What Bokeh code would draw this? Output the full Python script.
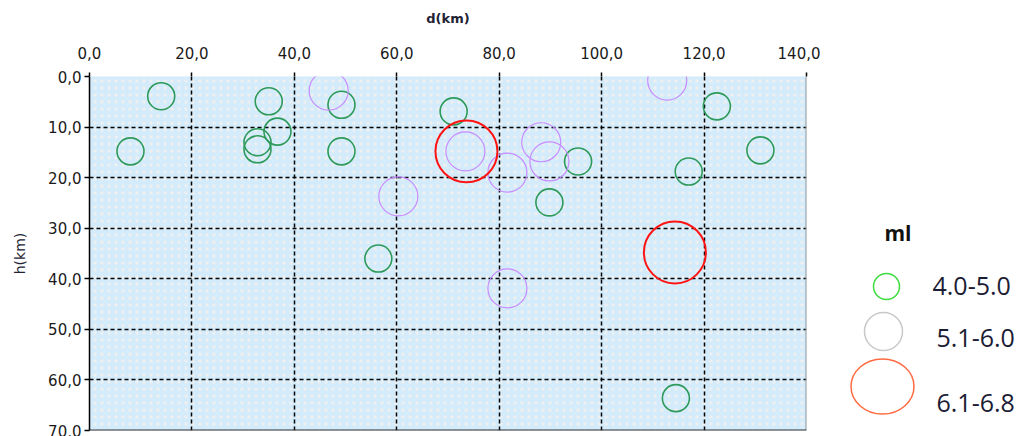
from bokeh.plotting import figure
from bokeh.models import Range1d, FixedTicker, CustomJSTickFormatter, BoxAnnotation, Span, ColumnDataSource
from bokeh.layouts import row
from bokeh.core.properties import value
from bokeh.embed import file_html
from bokeh.resources import INLINE

# ---------------- data ----------------
ml_classes = ["4.0-5.0", "5.1-6.0", "6.1-6.8"]

green_d = [14.0, 8.0, 35.0, 36.7, 32.8, 32.8, 49.2, 49.2, 71.1, 56.4, 95.4, 89.8, 122.5, 131.0, 117.0, 114.5]
green_h = [3.9, 14.8, 4.9, 10.9, 13.0, 14.4, 5.6, 14.8, 6.9, 36.0, 16.8, 24.9, 5.9, 14.6, 18.8, 63.6]

purple_d = [46.7, 73.4, 81.6, 60.3, 88.2, 89.8, 112.8, 81.6]
purple_h = [2.8, 14.8, 19.0, 23.7, 13.0, 16.8, 0.8, 41.9]

red_d = [73.6, 114.3]
red_h = [14.8, 34.8]

x_ticks = [0, 20, 40, 60, 80, 100, 120, 140]
y_ticks = [0, 10, 20, 30, 40, 50, 60, 70]

# ---------------- styles ----------------
data_colors = ["#2e9a5a", "#c88cff", "#ff1414"]
data_sizes = [27, 39, 62]
data_widths = [1.6, 1.2, 2.0]
legend_colors = ["#3ddc3d", "#c8c8c8", "#ff6a40"]
legend_w = [26, 38, 63]
legend_h = [26, 38, 55]
legend_cx = [886, 883, 882]
legend_cy = [286, 331, 386]
legend_tx = [932, 936, 936]
legend_ty = [285, 337, 402]

tick_fmt = CustomJSTickFormatter(code="return tick.toFixed(1).replace('.', ',');")

p = figure(width=820, height=436,
           x_range=Range1d(0, 140), y_range=Range1d(70, 0),
           x_axis_location="above",
           output_backend="svg", toolbar_location=None,
           min_border_left=89, min_border_right=14,
           min_border_top=76, min_border_bottom=6)

p.outline_line_color = None
p.background_fill_color = "#e3eff6"

bg = BoxAnnotation(fill_color="#d3ebfa", fill_alpha=1.0,
                   hatch_pattern="dot", hatch_color="#efefef",
                   hatch_scale=7, hatch_weight=5, hatch_alpha=0.95,
                   line_color=None, level="image")
p.add_layout(bg)

for ax in (p.xaxis, p.yaxis):
    ax.major_label_text_font = "DejaVu Sans"
    ax.major_label_text_font_size = "15px"
    ax.major_label_text_color = "#1a1a1a"
    ax.minor_tick_line_color = None
    ax.major_tick_in = 0
    ax.major_tick_line_color = "black"
    ax.major_tick_line_width = 1.5
    ax.formatter = tick_fmt
    ax.axis_label_text_color = "#222233"

p.xaxis.ticker = FixedTicker(ticks=x_ticks)
p.yaxis.ticker = FixedTicker(ticks=y_ticks)

p.xaxis.axis_line_color = None
p.xaxis.major_tick_out = 4
p.xaxis.major_label_standoff = 14
p.xaxis.axis_label = "d(km)"
p.xaxis.axis_label_text_font = "DejaVu Sans"
p.xaxis.axis_label_text_font_size = "13px"
p.xaxis.axis_label_text_font_style = "bold"
p.xaxis.axis_label_standoff = 18

p.yaxis.axis_line_color = "black"
p.yaxis.axis_line_width = 1.5
p.yaxis.major_tick_out = 5
p.yaxis.major_label_standoff = 3
p.yaxis.axis_label = "h(km)"
p.yaxis.axis_label_text_font = "DejaVu Sans"
p.yaxis.axis_label_text_font_size = "14px"
p.yaxis.axis_label_text_font_style = "normal"
p.yaxis.axis_label_standoff = 17

p.xgrid.ticker = FixedTicker(ticks=x_ticks)
p.ygrid.ticker = FixedTicker(ticks=y_ticks)
for g in (p.xgrid, p.ygrid):
    g.grid_line_color = "black"
    g.grid_line_dash = "4 3"
    g.grid_line_width = 1.5
    g.level = "underlay"

p.add_layout(Span(location=140, dimension="height", line_color="#9a9a9a", line_width=2))
p.add_layout(Span(location=70, dimension="width", line_color="#333333", line_width=2))

series = [(green_d, green_h), (purple_d, purple_h), (red_d, red_h)]
for i, (dd, hh) in enumerate(series):
    src = ColumnDataSource(dict(d=dd, h=hh))
    p.scatter("d", "h", source=src, marker="circle", size=data_sizes[i],
              fill_color=None, line_color=data_colors[i], line_width=data_widths[i])

# ---------------- legend panel (coordinates = page pixels) ----------------
lg = figure(width=205, height=436, x_range=Range1d(820, 1025), y_range=Range1d(430, 76),
            output_backend="svg", toolbar_location=None,
            min_border_left=0, min_border_right=0, min_border_top=76, min_border_bottom=6)
lg.axis.visible = False
lg.grid.visible = False
lg.outline_line_color = None

lsrc = ColumnDataSource(dict(cx=legend_cx, cy=legend_cy, w=legend_w, h=legend_h,
                             c=legend_colors, tx=legend_tx, ty=legend_ty, lab=ml_classes))
lg.ellipse(x="cx", y="cy", width="w", height="h", width_units="screen", height_units="screen",
           source=lsrc, fill_color=None, line_color="c", line_width=1.5)
lg.text(x="tx", y="ty", text="lab", source=lsrc, text_font=value("Open Sans"),
        text_font_size="25px", text_baseline="middle", text_align="left", text_color="#1c1c34")
lg.text(x=[897.5], y=[232], text=["ml"], text_font=value("Open Sans"), text_font_style="bold",
        text_font_size="21px", text_baseline="middle", text_align="center", text_color="#111111")

layout = row(p, lg)
open("out.html", "w").write(file_html(layout, INLINE))
